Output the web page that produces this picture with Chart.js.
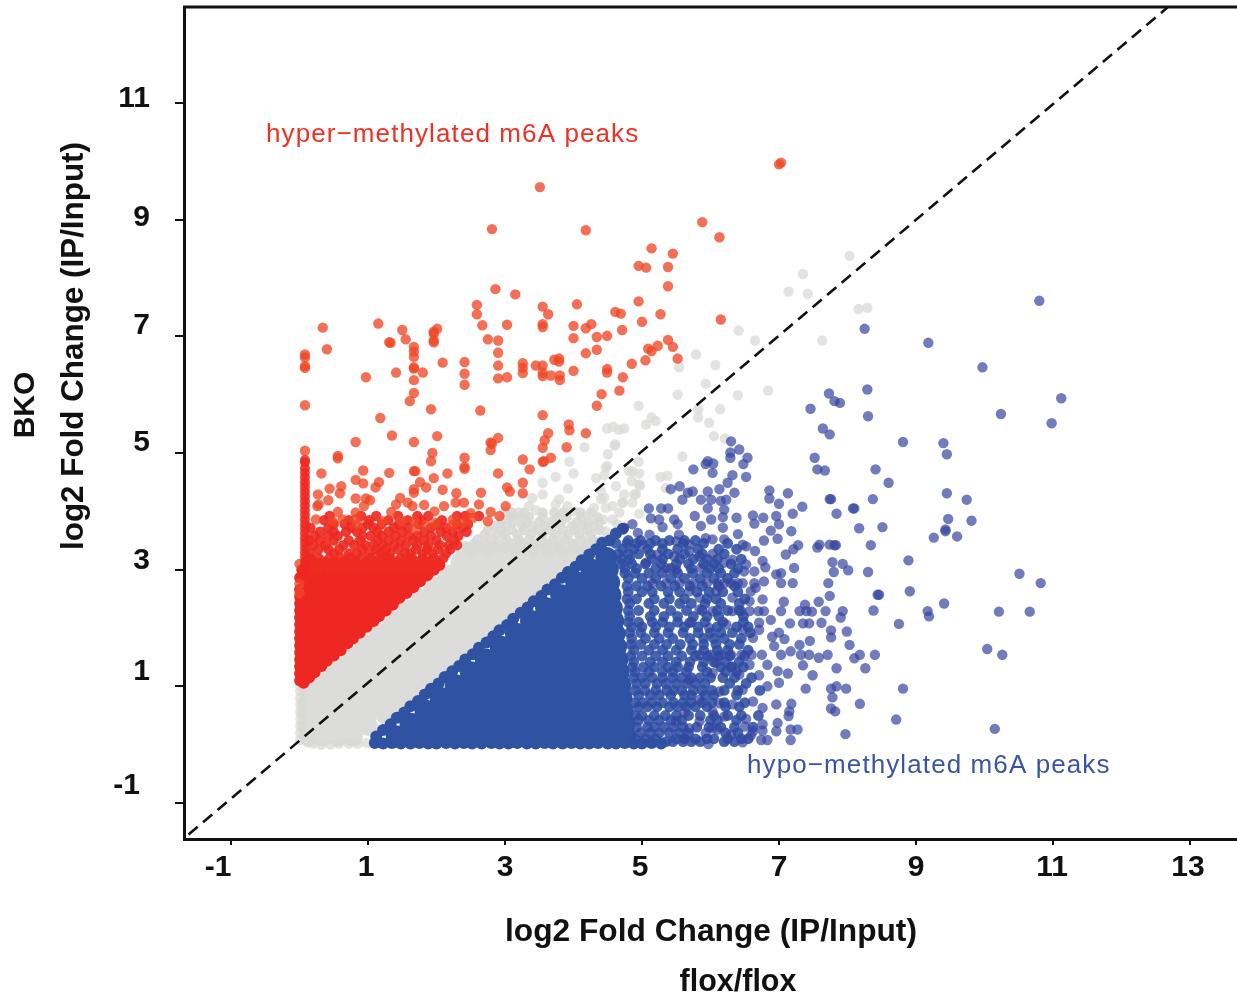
<!DOCTYPE html>
<html>
<head>
<meta charset="utf-8">
<title>m6A peaks</title>
<script src="https://cdn.jsdelivr.net/npm/chart.js@4"></script>
<style>
html, body { margin: 0; padding: 0; background: #fff; }
canvas { display: block; }
</style>
</head>
<body>
<canvas id="scatterChart" width="1237" height="1000"></canvas>
<script>
const xTicks = [-1, 1, 3, 5, 7, 9, 11, 13];
const yTicks = [-1, 1, 3, 5, 7, 9, 11];
const diagonal = [[-1.62, -1.54], [12.67, 12.64]];

// single readable points
const redPoints = [[7.03,9.98],[7.0,9.95],[3.51,9.56],[2.81,8.84],[4.18,8.82],[5.88,8.96],[6.13,8.70],[5.14,8.51],[5.45,8.42],[4.95,8.21],[5.06,8.18],[5.38,8.19],[5.38,7.86],[2.86,7.81],[3.15,7.72],[2.59,7.54],[3.55,7.51],[4.05,7.55],[4.95,7.60],[2.59,7.38],[3.63,7.38],[4.61,7.42],[4.69,7.39],[5.27,7.38],[6.15,7.29],[5.00,7.25],[2.67,7.19],[3.03,7.20],[3.55,7.21],[3.55,7.16],[4.00,7.18],[4.26,7.21],[4.18,7.14],[4.71,7.11],[0.34,7.15],[1.15,7.22],[1.50,7.11],[2.01,7.13],[1.96,7.08],[1.96,7.05],[1.55,6.95],[1.96,6.93],[1.96,6.90],[1.31,6.90],[1.33,6.89],[2.75,6.95],[2.90,6.93],[4.34,6.99],[4.49,7.01],[4.00,6.97],[5.38,6.94],[5.23,6.84],[5.45,6.82],[5.09,6.79],[5.14,6.75],[1.67,6.82],[1.67,6.74],[1.67,6.65],[0.40,6.78],[2.90,6.72],[4.34,6.77],[4.18,6.71],[0.08,6.69],[0.08,6.64],[0.08,6.49],[0.08,6.46],[2.09,6.55],[2.41,6.56],[3.72,6.60],[3.79,6.62],[3.79,6.57],[5.52,6.62],[5.05,6.59],[4.85,6.53],[3.26,6.54],[3.26,6.46],[3.26,6.37],[2.90,6.50],[3.45,6.50],[3.55,6.50],[1.67,6.47],[1.67,6.45],[1.41,6.38],[1.80,6.38],[2.41,6.36],[3.55,6.38],[3.55,6.32],[3.67,6.33],[3.80,6.33],[3.80,6.25],[4.00,6.41],[4.49,6.44],[4.49,6.38],[0.97,6.30],[2.90,6.28],[3.03,6.30],[4.72,6.30],[1.67,6.25],[2.41,6.17],[4.67,6.07],[1.67,6.03],[4.41,6.01],[1.61,5.89],[0.08,5.82],[4.34,5.81],[1.92,5.75],[2.64,5.73],[1.18,5.60],[3.55,5.65],[3.93,5.49],[3.94,5.39],[1.35,5.30],[2.01,5.29],[3.63,5.34],[4.18,5.34],[2.90,5.26],[3.58,5.22],[0.82,5.19],[1.67,5.19],[2.81,5.16],[2.79,5.18],[3.55,5.09],[3.90,5.10],[2.79,5.05],[0.08,5.04],[1.94,5.00],[0.56,4.95],[0.56,4.91],[2.41,4.92],[1.92,4.86],[3.26,4.89],[3.67,4.92],[3.55,4.85],[3.57,4.86],[2.41,4.76],[2.41,4.73],[3.36,4.72],[0.93,4.70],[1.67,4.69],[1.69,4.69],[1.31,4.66],[0.32,4.65],[2.16,4.65],[2.90,4.65],[0.82,4.54],[0.93,4.48],[1.16,4.50],[1.96,4.57],[1.76,4.50],[3.26,4.49],[3.03,4.41],[3.07,4.34],[0.61,4.43],[0.44,4.39],[1.11,4.41],[1.85,4.41],[2.09,4.37],[1.67,4.38],[1.67,4.32],[0.59,4.31],[0.27,4.29],[2.29,4.31],[2.65,4.32],[3.26,4.31],[0.42,4.19],[0.82,4.22],[0.97,4.22],[1.03,4.19],[1.47,4.23],[0.28,4.12],[1.41,4.12],[1.58,4.15],[1.65,4.09],[1.82,4.11],[2.11,4.09],[2.28,4.15],[2.40,4.15],[2.62,4.12],[3.01,4.09],[0.94,4.09],[0.26,4.09],[0.56,3.99],[0.82,3.98],[1.34,3.99],[1.97,4.00],[2.79,3.99],[2.92,3.92],[2.50,3.97],[0.24,3.86],[0.48,3.84],[0.63,3.86],[0.82,3.86],[0.85,3.78],[1.21,3.83],[1.48,3.84],[1.68,3.83],[1.68,3.72],[1.85,3.77],[1.99,3.80],[2.24,3.86],[2.24,3.77],[2.38,3.80],[2.53,3.89],[2.75,3.83],[0.0,3.10],[0.0,2.76],[0.0,2.6]];
const redFillRows = [[3.02,[0.16,0.3,0.44,0.58,0.72,0.86,1.0,1.14,1.28,1.42,1.56,1.7,1.84,1.95]],[3.14,[0.2,0.36,0.52,0.66,0.82,0.98,1.12,1.26,1.4,1.58,1.72,1.88,2.02]],[3.28,[0.16,0.5,0.72,0.84,1.02,1.18,1.32,1.54,1.62,1.8,1.94,2.14]],[3.42,[0.2,0.38,0.64,0.8,0.96,1.08,1.22,1.38,1.55,1.72,1.88,2.05,2.18,2.3]],[3.58,[0.22,0.42,0.56,0.92,1.04,1.2,1.4,1.6,1.72,1.92,2.15,2.32]],[3.72,[0.16,0.42,0.76,0.92,1.08,1.38,1.58,1.92,2.14,2.38]],[3.85,[0.36,0.72,1.02,1.3,1.58,1.78,2.08]],[3.08,[0.14,0.24,0.38,0.5,0.64,0.78,0.92,1.06,1.2,1.34,1.48,1.62,1.76,1.9,2.02]],[3.2,[0.14,0.28,0.44,0.6,0.74,0.9,1.05,1.2,1.32,1.48,1.64,1.8,1.96,2.1]],[3.35,[0.28,0.42,0.58,0.92,1.12,1.26,1.44,1.7,1.86,2.02,2.2]],[3.5,[0.14,0.3,0.5,0.72,0.88,1.14,1.3,1.48,1.66,1.82,2.0,2.26]],[3.65,[0.3,0.5,0.68,0.84,1.14,1.3,1.5,1.82,2.06,2.24,2.44]],[3.78,[0.5,0.66,1.0,1.2,1.45,1.74,2.02,2.3,2.46]],[3.92,[0.44,0.9,1.12,1.44,1.72,1.88,2.3,2.42,2.62]]];
const redSpike = [[0.08,4.88],[0.08,4.84],[0.08,4.74],[0.08,4.66],[0.08,4.58],[0.08,4.5],[0.08,4.42],[0.08,4.34],[0.08,4.26],[0.08,4.18],[0.08,4.1],[0.08,4.02],[0.08,3.94],[0.08,3.86],[0.08,3.78],[0.08,3.7],[0.08,3.62],[0.08,3.54],[0.08,3.46],[0.08,3.38],[0.08,3.3],[0.08,3.22],[0.08,3.14],[0.08,3.06],[0.08,2.98]];
const redEdge = [[0.06,1.06],[0.14,1.15],[0.22,1.24],[0.32,1.35],[0.4,1.44],[0.5,1.53],[0.6,1.62],[0.7,1.74],[0.78,1.82],[0.88,1.92],[0.98,2.02],[1.08,2.12],[1.16,2.2],[1.26,2.3],[1.36,2.4],[1.46,2.52],[1.56,2.6],[1.66,2.7],[1.76,2.8],[1.86,2.9],[1.96,3.0],[2.04,3.08],[0.01,1.1],[0.01,1.22],[0.01,1.34],[0.01,1.46],[0.01,1.58],[0.01,1.7],[0.01,1.82],[0.01,1.94],[0.01,2.06],[0.01,2.18],[0.01,2.3],[0.01,2.42],[0.01,2.54],[0.01,2.66],[0.01,2.86],[0.04,3.0]];
const redCoreRows = [[1.3,[0.12]],[1.45,[0.13,0.29]],[1.6,[0.12,0.28,0.44]],[1.75,[0.13,0.3,0.46,0.6]],[1.9,[0.12,0.28,0.45,0.6,0.76]],[2.05,[0.13,0.3,0.47,0.63,0.8,0.92]],[2.2,[0.12,0.29,0.46,0.62,0.79,0.95,1.07]],[2.35,[0.13,0.3,0.47,0.64,0.8,0.96,1.12,1.22]],[2.5,[0.12,0.29,0.46,0.62,0.79,0.95,1.12,1.28,1.37]],[2.65,[0.13,0.3,0.47,0.64,0.8,0.97,1.13,1.3,1.45,1.52]],[2.8,[0.12,0.29,0.46,0.63,0.79,0.96,1.12,1.29,1.45,1.6,1.68]],[2.95,[0.13,0.3,0.47,0.64,0.8,0.97,1.13,1.3,1.47,1.63,1.78,1.85]],[3.06,[0.14,0.31,0.48,0.65,0.81,0.98,1.14,1.31,1.48,1.64,1.8,1.92]]];

const grayPoints = [[8.03,8.38],[7.35,8.07],[7.14,7.77],[7.42,7.73],[8.16,7.47],[8.29,7.49],[6.65,6.93],[7.63,6.93],[6.84,6.07],[6.41,7.10],[5.79,6.69],[5.54,6.47],[6.07,6.51],[5.93,6.19],[5.52,6.00],[6.40,5.99],[4.95,5.81],[5.82,5.75],[6.14,5.75],[5.14,5.61],[5.20,5.55],[5.06,5.49],[5.82,5.61],[5.98,5.52],[4.49,5.42],[4.58,5.45],[4.66,5.40],[4.74,5.42],[6.05,5.29],[6.21,5.25],[4.16,5.10],[4.61,5.15],[4.50,4.98],[5.59,4.94],[3.94,4.85],[4.95,4.85],[4.49,4.78],[4.00,4.65],[4.81,4.69],[4.96,4.65],[3.74,4.59],[4.33,4.57],[4.45,4.62],[5.27,4.59],[5.37,4.61],[4.85,4.52],[3.55,4.49],[4.62,4.43],[4.97,4.44],[3.92,4.39],[5.35,4.40],[3.55,4.29],[4.40,4.35],[4.74,4.29],[4.91,4.29],[3.40,4.23],[4.40,4.21],[4.71,4.15],[4.86,4.15],[3.79,4.21],[3.35,4.09],[3.74,4.12],[3.91,4.09],[4.30,4.06],[4.57,4.09],[4.60,5.13],[4.47,4.75],[4.86,4.69],[4.96,4.46],[4.89,4.29],[4.45,4.23],[4.72,4.15],[4.96,3.96],[4.47,4.06],[4.67,3.98],[4.57,3.86],[4.43,3.86],[4.47,3.66],[4.64,3.78],[4.39,3.49],[4.50,3.55],[3.45,4.02],[3.2,3.98],[3.0,3.98],[4.02,4.0],[0.01,0.08],[0.01,0.2],[0.01,0.32],[0.01,0.44],[0.01,0.56],[0.01,0.68],[0.01,0.8],[0.01,0.92],[0.01,1.02],[0.2,0.02],[0.32,0.0],[0.45,0.0],[0.58,0.02],[0.72,0.02],[0.85,0.02],[0.98,0.03],[0.12,0.04]];
const grayFillRows = [[3.45,[2.55,2.72,2.9,3.1,3.25,3.45,3.62,3.8,4.0,4.2,4.32]],[3.6,[2.7,2.88,3.0,3.18,3.38,3.55,3.75,3.92,4.08,4.25]],[3.75,[2.85,3.02,3.25,3.4,3.58,3.72,3.98,4.15,4.3]],[3.9,[3.08,3.22,3.35,3.55,3.75,3.9,4.12,4.35]],[3.3,[2.5,2.75,3.15,3.42,3.62,3.85,4.1,4.3]],[3.38,[2.45,2.62,2.85,3.0,3.18,3.38,3.58,3.78,4.0,4.15,4.3]],[3.52,[2.6,2.8,3.02,3.2,3.35,3.52,3.7,3.88,4.12,4.28]],[3.68,[2.75,2.95,3.1,3.28,3.48,3.65,3.85,4.02,4.2,4.38]],[3.82,[2.95,3.12,3.32,3.5,3.68,3.82,4.05,4.22,4.38]],[3.98,[3.1,3.28,3.55,3.72,3.85,4.1,4.25]]];
const grayCoreRows = [[0.14,[0.14,0.34,0.56,0.78]],[0.32,[0.12,0.34,0.56,0.78,1.0]],[0.52,[0.12,0.34,0.56,0.78,1.0,1.25]],[0.72,[0.12,0.34,0.56,0.78,1.0,1.22,1.46]],[0.92,[0.14,0.36,0.58,0.8,1.02,1.24,1.46,1.66]],[1.12,[0.34,0.56,0.78,1.0,1.22,1.44,1.66,1.88]],[1.32,[0.55,0.77,0.99,1.21,1.43,1.65,1.87,2.09]],[1.52,[0.75,0.97,1.19,1.41,1.63,1.85,2.07,2.29]],[1.72,[0.95,1.17,1.39,1.61,1.83,2.05,2.27,2.49]],[1.92,[1.15,1.37,1.59,1.81,2.03,2.25,2.47,2.69]],[2.12,[1.35,1.57,1.79,2.01,2.23,2.45,2.67,2.89]],[2.32,[1.55,1.77,1.99,2.21,2.43,2.65,2.87,3.09]],[2.52,[1.75,1.97,2.19,2.41,2.63,2.85,3.07,3.29]],[2.72,[1.95,2.17,2.39,2.61,2.83,3.05,3.27,3.49]],[2.92,[2.15,2.37,2.59,2.81,3.03,3.25,3.47,3.69]],[3.12,[2.35,2.57,2.79,3.01,3.23,3.45,3.67,3.89]],[3.32,[2.42,2.62,2.82,3.05,3.3,3.52,3.72,3.98]]];

const bluePoints = [[10.80,7.61],[8.25,7.13],[9.18,6.89],[9.97,6.47],[11.12,5.94],[10.24,5.67],[10.98,5.51],[9.40,5.17],[9.45,4.98],[9.45,4.31],[9.74,4.20],[9.47,3.87],[9.81,3.84],[9.43,3.69],[9.43,3.66],[9.26,3.55],[9.60,3.57],[10.51,2.93],[10.82,2.77],[9.41,2.42],[9.17,2.29],[9.19,2.20],[10.21,2.28],[10.66,2.28],[10.04,1.64],[10.26,1.54],[10.15,0.27],[8.29,6.09],[7.73,6.02],[7.81,5.89],[7.89,5.86],[7.46,5.76],[8.30,5.63],[7.64,5.42],[7.74,5.32],[8.81,5.19],[6.30,5.20],[6.42,5.06],[6.29,5.01],[6.29,4.92],[6.54,4.92],[7.52,4.92],[5.96,4.86],[6.04,4.82],[5.93,4.81],[6.48,4.81],[5.75,4.72],[7.56,4.72],[7.67,4.70],[8.41,4.72],[6.03,4.66],[6.32,4.62],[6.52,4.59],[6.25,4.49],[8.60,4.49],[5.55,4.43],[5.42,4.38],[5.74,4.34],[5.67,4.32],[5.96,4.34],[6.13,4.38],[6.35,4.32],[6.86,4.36],[7.13,4.31],[5.59,4.20],[5.86,4.20],[6.01,4.20],[6.15,4.18],[6.23,4.20],[6.86,4.22],[7.00,4.13],[7.74,4.21],[7.76,4.21],[8.37,4.21],[8.08,4.05],[8.1,4.05],[5.10,4.05],[5.28,4.05],[5.38,4.05],[5.96,4.05],[6.20,4.03],[7.34,4.08],[5.77,3.92],[6.01,3.86],[6.18,3.90],[6.38,3.89],[6.62,3.93],[6.77,3.89],[6.96,3.92],[7.20,3.96],[7.84,3.96],[5.13,3.88],[5.25,3.86],[5.47,3.86],[6.64,3.79],[7.00,3.78],[8.17,3.71],[8.51,3.73],[4.86,3.78],[4.74,3.72],[5.30,3.73],[5.52,3.78],[5.86,3.75],[6.18,3.72],[6.88,3.67],[7.18,3.66],[4.94,3.63],[5.11,3.60],[5.54,3.60],[6.40,3.61],[5.93,3.54],[6.03,3.52],[6.20,3.52],[6.78,3.50],[6.98,3.53],[5.01,3.43],[5.50,3.49],[5.69,3.43],[6.47,3.43],[7.28,3.42],[7.59,3.43],[7.74,3.43],[7.81,3.42],[7.83,3.42],[8.34,3.42],[7.56,3.38],[5.69,3.32],[5.23,3.26],[5.47,3.23],[6.03,3.27],[6.52,3.40],[6.65,3.32],[7.21,3.35],[7.10,3.26],[5.84,3.23],[5.06,3.12],[5.35,3.03],[6.20,3.12],[6.32,3.17],[6.52,3.09],[6.76,3.15],[7.78,3.13],[7.93,3.10],[8.89,3.16],[5.50,3.00],[5.86,3.03],[6.64,2.97],[7.22,3.03],[6.80,3.04],[8.01,2.99],[7.80,2.96],[8.30,2.96],[6.96,2.92],[7.03,2.94],[6.49,2.97],[5.15,2.77],[5.35,2.77],[5.55,2.77],[5.75,2.77],[5.95,2.77],[6.1,2.77],[6.2,2.77],[6.3,2.77],[6.4,2.77],[6.47,2.77],[6.64,2.77],[6.78,2.80],[7.03,2.77],[7.20,2.77],[7.72,2.77],[5.69,2.63],[6.08,2.63],[6.59,2.63],[6.66,2.69],[8.44,2.57],[8.46,2.57],[8.91,2.63],[7.74,2.55],[6.76,2.49],[7.07,2.45],[7.58,2.45],[7.38,2.40],[5.84,2.52],[6.32,2.52],[6.57,2.46],[6.32,2.29],[6.45,2.29],[6.57,2.29],[6.7,2.29],[6.78,2.29],[7.03,2.29],[7.30,2.29],[7.40,2.29],[7.48,2.28],[7.68,2.29],[7.93,2.29],[8.38,2.30],[5.84,2.32],[6.03,2.29],[7.90,2.18],[8.75,2.07],[7.62,2.09],[7.35,2.08],[7.44,2.08],[7.16,2.08],[6.71,2.09],[6.88,2.14],[6.71,1.97],[7.00,1.92],[6.47,1.97],[7.76,1.96],[7.99,1.94],[6.23,2.06],[5.98,2.00],[5.69,2.09],[7.76,1.84],[6.90,1.85],[7.08,1.81],[7.45,1.78],[6.62,1.83],[7.30,1.71],[8.03,1.71],[6.93,1.69],[5.84,1.54],[6.0,1.54],[6.15,1.54],[6.3,1.54],[6.45,1.54],[6.6,1.54],[6.75,1.54],[7.03,1.54],[7.17,1.60],[7.32,1.54],[7.44,1.54],[7.71,1.54],[8.18,1.54],[8.40,1.54],[8.10,1.48],[7.58,1.49],[7.35,1.36],[7.84,1.31],[8.26,1.31],[6.83,1.37],[6.57,1.37],[6.32,1.34],[6.08,1.40],[7.49,1.19],[7.13,1.22],[6.98,1.26],[6.71,1.19],[6.42,1.20],[6.03,1.23],[5.69,1.11],[7.39,0.96],[7.76,0.96],[7.84,1.00],[7.98,0.96],[8.81,0.96],[7.00,1.06],[6.83,1.00],[6.47,0.94],[6.13,0.91],[7.78,0.81],[6.62,0.74],[6.32,0.69],[8.18,0.70],[7.18,0.70],[6.96,0.69],[6.76,0.63],[6.13,0.71],[5.84,0.77],[7.76,0.62],[7.82,0.57],[7.15,0.57],[5.62,0.54],[6.03,0.57],[7.14,0.49],[6.52,0.44],[8.71,0.43],[5.50,0.40],[5.84,0.40],[6.20,0.48],[6.76,0.35],[6.98,0.37],[6.50,0.31],[5.69,0.28],[6.03,0.28],[6.76,0.24],[7.17,0.26],[7.27,0.26],[6.96,0.23],[6.62,0.23],[6.30,0.17],[5.93,0.20],[6.10,0.26],[7.97,0.18],[5.62,0.10],[5.97,0.01],[6.47,0.04],[6.59,0.16],[6.74,0.08],[6.83,0.08],[7.17,0.08]];
const blueFillRows = [[0.05,[5.35,5.45,5.6,5.72,5.85,6.2,6.35]],[0.2,[4.98,5.12,5.25,5.4,5.55,5.68,6.22,6.4]],[0.42,[4.95,5.1,5.25,5.42,5.58,6.0,6.1,6.38]],[0.65,[4.95,5.08,5.22,5.4,5.52,5.65,5.78,5.95,6.22,6.42]],[0.85,[4.95,5.12,5.25,5.42,5.62,5.72,5.92,6.05,6.38]],[1.05,[4.92,5.05,5.22,5.35,5.5,5.65,5.78,5.92,6.28,6.52]],[1.25,[4.9,5.1,5.3,5.45,5.65,5.95,6.22,6.38]],[1.42,[4.88,5.12,5.3,5.5,5.7,5.9,6.05,6.22,6.42]],[1.62,[4.88,5.1,5.3,5.5,5.72,5.9,6.1,6.25,6.55]],[1.82,[4.85,5.05,5.25,5.45,5.7,5.9,6.05,6.2,6.45]],[2.02,[4.85,5.0,5.2,5.4,5.62,5.82,6.1,6.38,6.55]],[2.2,[4.82,5.12,5.32,5.52,5.75,5.95,6.12,6.48]],[2.42,[4.82,5.1,5.32,5.55,5.72,5.92,6.15,6.42]],[2.62,[4.8,5.0,5.15,5.38,5.55,5.8,5.98,6.18,6.4]],[2.85,[4.8,5.0,5.2,5.42,5.62,5.85,6.05,6.25]],[3.02,[4.75,4.92,5.2,5.42,5.72,6.0,6.12,6.4]],[3.18,[4.7,4.82,5.15,5.3,5.55,5.75,5.95,6.1,6.45]],[3.35,[4.72,4.88,5.08,5.3,5.52,5.82,6.12,6.38]],[3.5,[4.8,4.98,5.2,5.4,5.62,5.78]],[0.1,[4.9,5.05,5.2,5.5,5.62,5.78,5.95,6.05,6.25,6.45,6.55]],[0.3,[4.92,5.08,5.18,5.32,5.46,5.6,5.8,5.98,6.15,6.35,6.62]],[0.5,[4.9,5.0,5.18,5.34,5.5,5.68,5.85,6.05,6.25,6.45,6.7]],[0.72,[4.9,5.02,5.15,5.3,5.46,5.6,5.72,5.88,6.02,6.2,6.5]],[0.93,[4.9,5.04,5.2,5.36,5.46,5.58,5.75,5.88,6.02,6.2,6.4,6.72]],[1.15,[4.88,5.0,5.15,5.3,5.45,5.58,5.72,5.85,6.0,6.18,6.35,6.6]],[1.33,[4.86,5.02,5.18,5.38,5.52,5.68,5.88,6.15,6.3,6.48]],[1.52,[4.84,5.0,5.2,5.38,5.58,5.78,5.96,6.12,6.28,6.5]],[1.72,[4.84,4.98,5.18,5.36,5.56,5.74,5.9,6.08,6.28,6.42]],[1.92,[4.82,4.98,5.18,5.38,5.6,5.82,6.0,6.15,6.32,6.58]],[2.1,[4.8,4.95,5.15,5.3,5.52,5.72,5.92,6.18,6.48]],[2.3,[4.8,4.95,5.18,5.42,5.65,5.88,6.1,6.25,6.42]],[2.5,[4.78,4.92,5.18,5.4,5.62,5.95,6.08,6.5]],[2.72,[4.78,4.92,5.08,5.28,5.48,5.7,5.88,6.12,6.35]],[2.94,[4.75,4.9,5.1,5.3,5.52,5.74,5.95,6.15,6.35]],[3.1,[4.7,4.85,5.05,5.28,5.5,5.68,5.9,6.05,6.3]],[3.27,[4.65,4.8,4.95,5.12,5.38,5.62,5.88,6.2]],[3.45,[4.62,4.78,4.92,5.12,5.3,5.6,5.9,6.25]]];
const blueEdge = [[1.12,0.14],[1.22,0.25],[1.33,0.35],[1.42,0.46],[1.53,0.55],[1.62,0.66],[1.73,0.75],[1.83,0.86],[1.92,0.96],[2.03,1.05],[2.12,1.16],[2.23,1.26],[2.33,1.35],[2.42,1.46],[2.53,1.55],[2.62,1.66],[2.73,1.75],[2.83,1.86],[2.92,1.96],[3.03,2.05],[3.12,2.16],[3.23,2.26],[3.33,2.35],[3.42,2.46],[3.53,2.55],[3.62,2.66],[3.73,2.75],[3.83,2.86],[3.92,2.96],[4.03,3.05],[4.12,3.16],[4.23,3.26],[4.33,3.35],[4.42,3.46],[4.53,3.5],[4.62,3.62],[4.72,3.7],[1.1,0.03],[1.22,0.02],[1.35,0.03],[1.48,0.02],[1.62,0.02],[1.75,0.03],[1.88,0.02],[2.0,0.02],[2.14,0.03],[2.27,0.02],[2.4,0.03],[2.52,0.02],[2.66,0.02],[2.8,0.03],[2.92,0.02],[3.05,0.02],[3.18,0.03],[3.32,0.02],[3.45,0.02],[3.58,0.03],[3.7,0.02],[3.84,0.02],[3.97,0.03],[4.1,0.02],[4.23,0.02],[4.36,0.03],[4.5,0.02],[4.62,0.02],[4.75,0.03],[4.88,0.02],[5.0,0.02],[5.14,0.03],[5.28,0.02]];
const blueCoreRows = [[0.14,[1.42,1.66,1.9,2.14,2.38,2.62,2.86,3.1,3.34,3.58,3.82,4.06,4.3,4.54,4.76]],[0.36,[1.62,1.86,2.1,2.34,2.58,2.82,3.06,3.3,3.54,3.78,4.02,4.26,4.5,4.74]],[0.58,[1.84,2.08,2.32,2.56,2.8,3.04,3.28,3.52,3.76,4.0,4.24,4.48,4.72]],[0.8,[2.06,2.3,2.54,2.78,3.02,3.26,3.5,3.74,3.98,4.22,4.46,4.7]],[1.02,[2.28,2.52,2.76,3.0,3.24,3.48,3.72,3.96,4.2,4.44,4.68]],[1.24,[2.5,2.74,2.98,3.22,3.46,3.7,3.94,4.18,4.42,4.66]],[1.46,[2.72,2.96,3.2,3.44,3.68,3.92,4.16,4.4,4.64]],[1.68,[2.94,3.18,3.42,3.66,3.9,4.14,4.38,4.62]],[1.9,[3.16,3.4,3.64,3.88,4.12,4.36,4.6]],[2.12,[3.38,3.62,3.86,4.1,4.34,4.58]],[2.34,[3.6,3.84,4.08,4.32,4.56]],[2.56,[3.82,4.06,4.3,4.54]],[2.78,[4.04,4.28,4.52]],[3.0,[4.26,4.5]],[3.2,[4.48]]];

// pixel nudges of the tick labels, the source figure has them placed by hand
const xLabelNudge = [-13, -2, 0, -2, 0, 0, -1, -2];
const yLabelNudge = [-17, -15, -9, -10, -11, -2, -4];

const toPts = arr => arr.map(p => ({ x: p[0], y: p[1] }));
const rowsToPts = rows => rows.flatMap(r => r[1].map(x => ({ x: x, y: r[0] })));

const TEXT = '#111';
const figureText = {
    id: 'figureText',
    afterDraw(chart) {
        const c = chart.ctx, sx = chart.scales.x, sy = chart.scales.y, a = chart.chartArea;
        c.save();
        c.strokeStyle = TEXT;
        c.lineWidth = 3;
        c.beginPath();
        c.moveTo(a.left - 1, a.top);
        c.lineTo(a.right, a.top);
        c.stroke();

        c.fillStyle = TEXT;
        c.font = 'bold 30px "Liberation Sans"';
        c.textBaseline = 'middle';
        c.textAlign = 'center';
        xTicks.forEach((v, i) => c.fillText(v, sx.getPixelForValue(v) + xLabelNudge[i], 868));
        c.textAlign = 'right';
        yTicks.forEach((v, i) => c.fillText(v, v === -1 ? 140 : 150, sy.getPixelForValue(v) + yLabelNudge[i]));

        c.textAlign = 'center';
        c.font = 'bold 31.7px "Liberation Sans"';
        c.fillText('log2 Fold Change (IP/Input)', 711, 932);
        c.font = 'bold 30.5px "Liberation Sans"';
        c.fillText('flox/flox', 738, 983);
        c.save();
        c.translate(74, 346);
        c.rotate(-Math.PI / 2);
        c.font = 'bold 31.4px "Liberation Sans"';
        c.fillText('log2 Fold Change (IP/Input)', 0, 0);
        c.restore();
        c.save();
        c.translate(26, 405);
        c.rotate(-Math.PI / 2);
        c.font = 'bold 30px "Liberation Sans"';
        c.fillText('BKO', 0, 0);
        c.restore();

        c.font = '26px "Liberation Sans"';
        c.letterSpacing = '1.1px';
        c.textAlign = 'left';
        c.fillStyle = '#EE3124';
        c.fillText('hyper\u2212methylated m6A peaks', 266, 135);
        c.fillStyle = '#3A55A4';
        c.fillText('hypo\u2212methylated m6A peaks', 747, 766);
        c.restore();
    }
};

const dots = (data, color, radius, order) => ({ data: data, backgroundColor: color, borderWidth: 0, pointRadius: radius, pointHoverRadius: radius, order: order });

new Chart(document.getElementById('scatterChart').getContext('2d'), {
    type: 'scatter',
    data: {
        datasets: [
            { data: toPts(diagonal), showLine: true, borderColor: '#111', borderWidth: 2.6, borderDash: [12, 7], pointRadius: 0, order: 0 },
            dots(toPts(redSpike), 'rgba(238,39,34,0.85)', 5, 1),
            dots(toPts(redPoints), 'rgba(240,72,38,0.78)', 5.2, 2),
            dots(rowsToPts(redFillRows), 'rgba(238,42,34,0.92)', 5.2, 3),
            dots(toPts(redEdge), '#EE2722', 6, 4),
            dots(rowsToPts(redCoreRows), '#EE2722', 8, 5),
            dots(toPts(bluePoints), 'rgba(52,68,160,0.7)', 5.2, 6),
            dots(rowsToPts(blueFillRows), 'rgba(47,78,163,0.88)', 5.4, 7),
            dots(toPts(blueEdge), '#2F52A3', 6, 8),
            dots(rowsToPts(blueCoreRows), '#2F52A3', 11, 9),
            dots(toPts(grayPoints), 'rgba(216,216,214,0.72)', 5.2, 10),
            dots(rowsToPts(grayFillRows), 'rgba(216,216,214,0.9)', 5.2, 11),
            dots(rowsToPts(grayCoreRows), '#DCDCDB', 10, 12)
        ]
    },
    options: {
        responsive: false,
        animation: false,
        events: [],
        plugins: { legend: { display: false }, tooltip: { enabled: false } },
        layout: { autoPadding: false, padding: { top: 7, left: 0, right: 0, bottom: 0 } },
        scales: {
            x: {
                type: 'linear', min: -1.686, max: 13.686,
                afterBuildTicks: s => { s.ticks = xTicks.map(v => ({ value: v })); },
                afterFit: s => { s.height = 161; },
                ticks: { display: false },
                grid: { drawOnChartArea: false, drawTicks: true, tickLength: 6, color: TEXT, lineWidth: 2 },
                border: { color: TEXT, width: 3 }
            },
            y: {
                type: 'linear', min: -1.618, max: 12.648,
                afterBuildTicks: s => { s.ticks = yTicks.map(v => ({ value: v })); },
                afterFit: s => { s.width = 184; },
                ticks: { display: false },
                grid: { drawOnChartArea: false, drawTicks: true, tickLength: 9, color: TEXT, lineWidth: 2 },
                border: { color: TEXT, width: 3 }
            }
        }
    },
    plugins: [figureText]
});
</script>
</body>
</html>
